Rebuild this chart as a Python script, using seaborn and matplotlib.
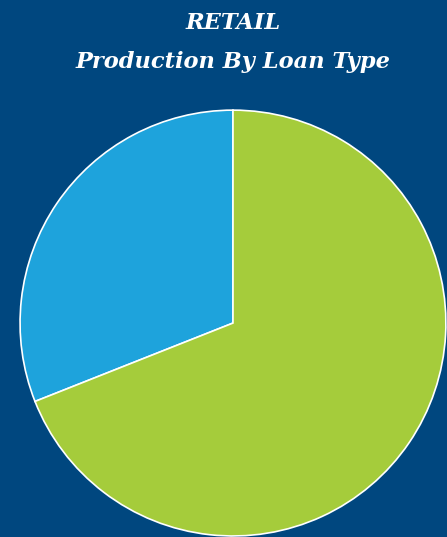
import matplotlib
matplotlib.use('Agg')
import matplotlib.pyplot as plt
import seaborn as sns

# ── Data ─────────────────────────────────────────────────────────────────────
loan_types = ['Loan Type A', 'Loan Type B']
shares = [31, 69]
colors = ['#1EA3DC', '#A5CC3B']

BG = '#00477F'

sns.set_theme(style='white')
plt.rcParams['font.family'] = ['DejaVu Serif']

fig = plt.figure(figsize=(4.47, 5.37), dpi=100)
fig.patch.set_facecolor(BG)

ax = fig.add_axes([0.0447, 0.0019, 0.953, 0.793])
ax.set_facecolor(BG)
ax.pie(shares, colors=colors, startangle=90, counterclock=True,
       wedgeprops=dict(edgecolor='white', linewidth=1.2))
ax.set_aspect('equal')
ax.set_xlim(-1.0, 1.0)
ax.set_ylim(-1.0, 1.0)
ax.axis('off')

fig.text(0.5213, 0.957, 'RETAIL', color='white', fontsize=16.2,
         fontweight='bold', fontstyle='italic', ha='center', va='center')
fig.text(0.5213, 0.884, 'Production By Loan Type', color='white', fontsize=16.2,
         fontweight='bold', fontstyle='italic', ha='center', va='center')

plt.savefig('out.png', dpi=100, facecolor=BG)
